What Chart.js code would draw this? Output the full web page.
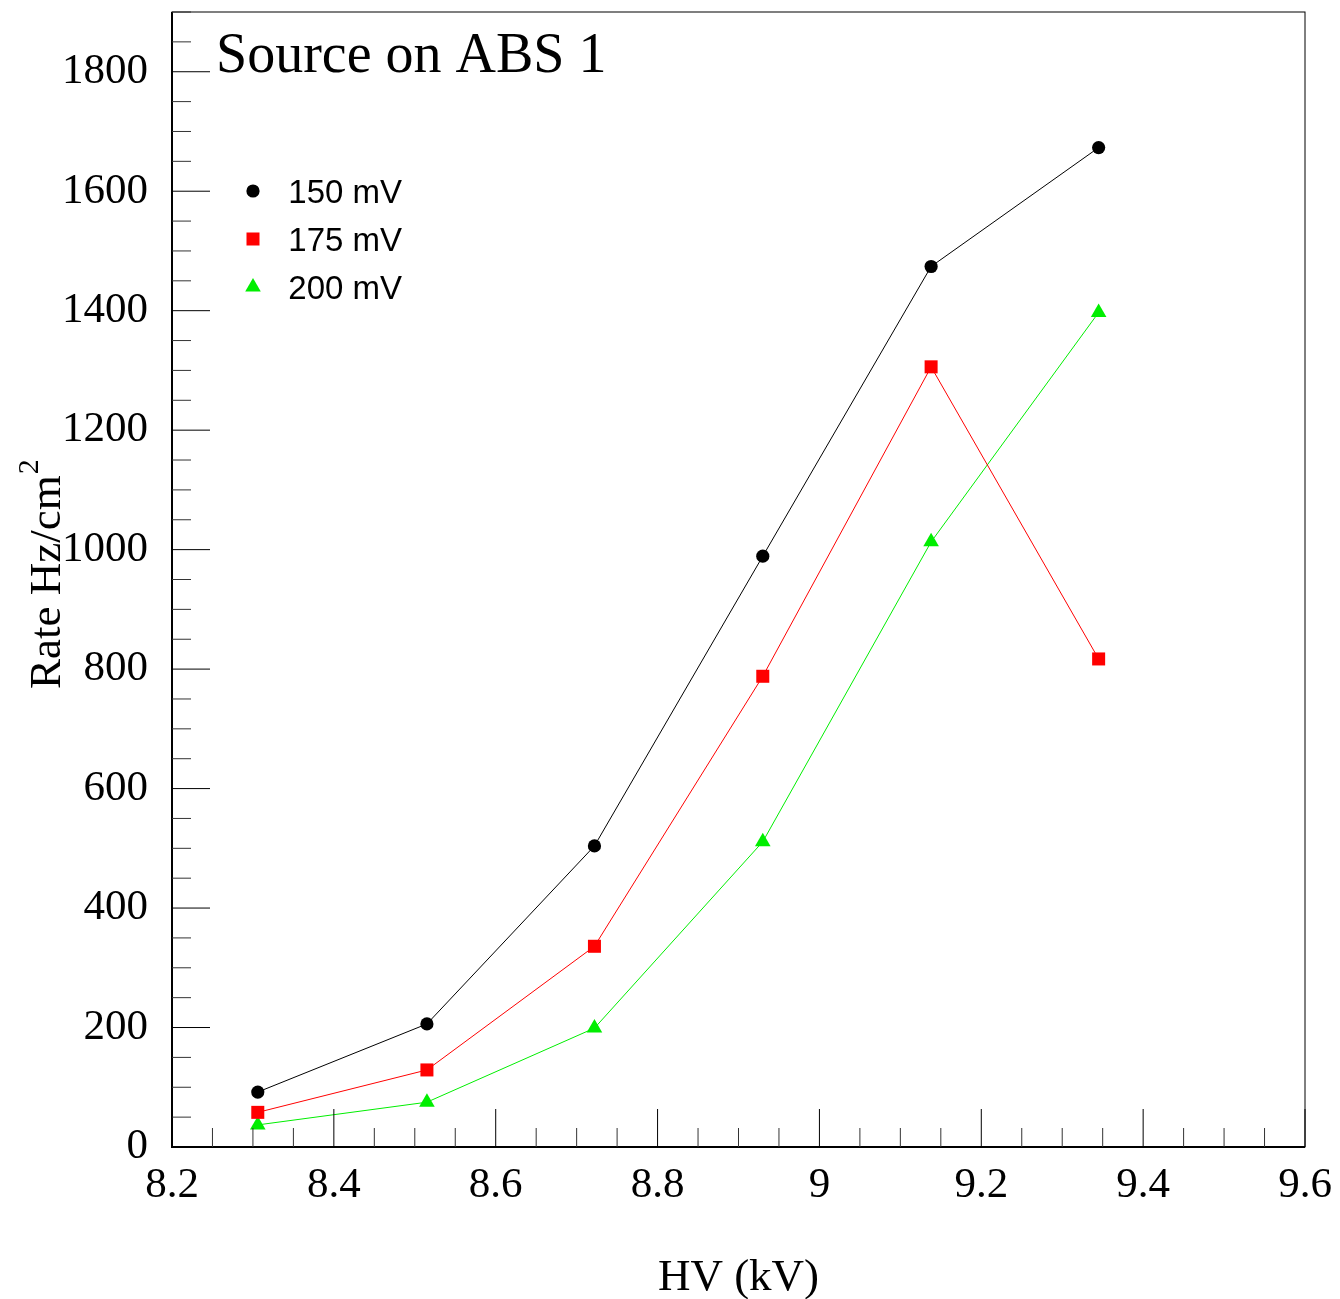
<!DOCTYPE html>
<html>
<head>
<meta charset="utf-8">
<script src="https://cdn.jsdelivr.net/npm/chart.js@4.4.1/dist/chart.umd.min.js"></script>
<style>
html,body{margin:0;padding:0;background:#fff;}
canvas{display:block;}
</style>
</head>
<body>
<canvas id="c" width="1340" height="1299"></canvas>
<script>
// ---- data ----
const hv = [8.306, 8.515, 8.722, 8.930, 9.138, 9.345];
const rate150 = [92, 206, 504, 989, 1474, 1673];
const rate175 = [58, 129, 336, 788, 1306, 817];
const rate200 = [37, 75, 199, 511, 1013, 1397];
const seriesNames = ['150 mV', '175 mV', '200 mV'];
const xTicks = [8.2, 8.4, 8.6, 8.8, 9.0, 9.2, 9.4, 9.6];
const yTicks = [0, 200, 400, 600, 800, 1000, 1200, 1400, 1600, 1800];
const xMinorStep = 0.05;
const yMinorStep = 50;
const chartTitle = 'Source on ABS 1';
const xTitle = 'HV (kV)';
const yTitle = 'Rate Hz/cm';
const yTitleSup = '2';

const serif = '"Liberation Serif", "Times New Roman", serif';
const sans = '"Liberation Sans", Arial, sans-serif';

function pts(ys){ return hv.map((x,i)=>({x:x, y:ys[i]})); }

const styles = [
  {color:'#000000', pointStyle:'circle', radius:6.6},
  {color:'#ff0000', pointStyle:'rect', radius:9.2},
  {color:'#00ee00', pointStyle:'triangle', radius:9}
];
const allSeries = [rate150, rate175, rate200];

const datasets = allSeries.map((s,i)=>({
  label: seriesNames[i],
  data: pts(s),
  borderColor: styles[i].color,
  backgroundColor: styles[i].color,
  borderWidth: 1,
  pointStyle: styles[i].pointStyle,
  pointRadius: styles[i].radius,
  pointBorderWidth: 0,
  pointBackgroundColor: styles[i].color,
  pointBorderColor: styles[i].color,
  showLine: true,
  tension: 0,
  fill: false
}));

const rootPlugin = {
  id: 'rootStyle',
  afterDraw(chart){
    const ctx = chart.ctx;
    const a = chart.chartArea;
    const xs = chart.scales.x, ys = chart.scales.y;
    ctx.save();
    // frame
    ctx.strokeStyle = '#000';
    ctx.lineWidth = 1;
    ctx.strokeRect(a.left, a.top, a.right - a.left, a.bottom - a.top);
    ctx.lineWidth = 2;
    ctx.beginPath();
    ctx.moveTo(a.left, a.top); ctx.lineTo(a.left, a.bottom); ctx.lineTo(a.right, a.bottom);
    ctx.stroke();
    // ticks
    ctx.lineWidth = 1;
    const majL = 38, minL = 19;
    for (let v = ys.min; v <= ys.max + 1e-9; v += yMinorStep){
      const y = ys.getPixelForValue(v);
      const isMaj = yTicks.some(t=>Math.abs(t - v) < 1e-6);
      ctx.strokeStyle = isMaj ? '#000' : '#333';
      ctx.beginPath();
      ctx.moveTo(a.left, y); ctx.lineTo(a.left + (isMaj ? majL : minL), y);
      ctx.stroke();
    }
    const n = Math.round((xs.max - xs.min)/xMinorStep);
    for (let k = 0; k <= n; k++){
      const v = xs.min + k*xMinorStep;
      const x = xs.getPixelForValue(v);
      const isMaj = xTicks.some(t=>Math.abs(t - v) < 1e-6);
      ctx.strokeStyle = isMaj ? '#000' : '#333';
      ctx.beginPath();
      ctx.moveTo(x, a.bottom); ctx.lineTo(x, a.bottom - (isMaj ? majL : minL));
      ctx.stroke();
    }
    // title
    ctx.fillStyle = '#000';
    ctx.font = '56px ' + serif;
    ctx.textAlign = 'left';
    ctx.textBaseline = 'alphabetic';
    ctx.fillText(chartTitle, 216, 72);
    // x title
    ctx.font = '45px ' + serif;
    ctx.textAlign = 'center';
    ctx.fillText(xTitle, (a.left + a.right)/2, 1290);
    // y title
    ctx.save();
    ctx.translate(60, 689);
    ctx.rotate(-Math.PI/2);
    ctx.textAlign = 'left';
    ctx.font = '45px ' + serif;
    ctx.fillText(yTitle, 0, 0);
    const w = ctx.measureText(yTitle).width;
    ctx.font = '30px ' + serif;
    ctx.fillText(yTitleSup, w + 1, -22);
    ctx.restore();
    // legend
    const legY = [191, 239, 287];
    chart.data.datasets.forEach((ds, i)=>{
      ctx.fillStyle = ds.pointBackgroundColor;
      Chart.helpers.drawPoint(ctx, {pointStyle: ds.pointStyle, radius: ds.pointRadius, borderWidth: 0}, 253, legY[i]);
      ctx.fillStyle = '#000';
      ctx.font = '33px ' + sans;
      ctx.textAlign = 'right';
      ctx.textBaseline = 'alphabetic';
      ctx.fillText(ds.label, 402, legY[i] + 12);
    });
    ctx.restore();
  }
};

new Chart(document.getElementById('c'), {
  type: 'line',
  data: { datasets },
  options: {
    responsive: false,
    animation: false,
    devicePixelRatio: 1,
    layout: { padding: { left: 0, top: 12, right: 35, bottom: 0 } },
    plugins: { legend: { display: false }, title: { display: false }, tooltip: { enabled: false } },
    scales: {
      x: {
        type: 'linear', min: 8.2, max: 9.6,
        afterFit(s){ s.height = 152; s.paddingLeft = 0; s.paddingRight = 0; },
        afterBuildTicks(s){ s.ticks = xTicks.map(v=>({value:v})); },
        grid: { display: false, drawTicks: false },
        border: { display: false },
        ticks: {
          color: '#000', padding: 13, maxRotation: 0, autoSkip: false,
          font: { family: serif, size: 43 },
          callback: v => String(+Number(v).toFixed(1))
        }
      },
      y: {
        type: 'linear', min: 0, max: 1900,
        afterFit(s){ s.width = 172; s.paddingTop = 0; s.paddingBottom = 0; },
        afterBuildTicks(s){ s.ticks = yTicks.map(v=>({value:v})); },
        grid: { display: false, drawTicks: false },
        border: { display: false },
        ticks: {
          color: '#000', padding: 24, autoSkip: false,
          font: { family: serif, size: 43 },
          callback: v => String(v)
        }
      }
    }
  },
  plugins: [rootPlugin]
});
</script>
</body>
</html>
